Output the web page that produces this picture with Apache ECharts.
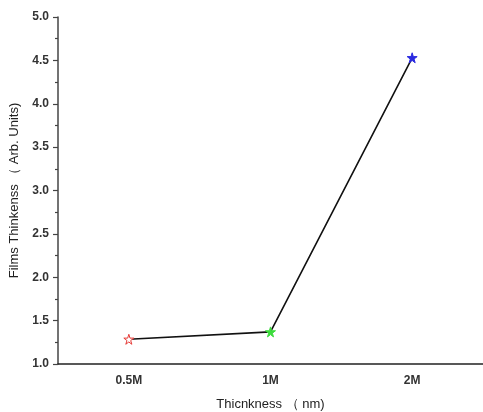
<!DOCTYPE html>
<html><head><meta charset="utf-8">
<script src="https://cdn.jsdelivr.net/npm/echarts@6/dist/echarts.min.js"></script>
<style>html,body{margin:0;padding:0;background:#fff}#c{width:483px;height:412px}</style>
</head><body><div id="c"></div>
<script>
var categories = ['0.5M', '1M', '2M'];
var thickness = [1.285, 1.37, 4.53];
var yTicks = [1.0, 1.5, 2.0, 2.5, 3.0, 3.5, 4.0, 4.5, 5.0];
var markerColors = ['#e53935', '#3ddc3d', '#2a2ae0'];
var markerFilled = [false, true, true];

var star = 'path://M50,0 L61,35 L98,35 L68,57 L79,91 L50,70 L21,91 L32,57 L2,35 L39,35 Z';
var chart = echarts.init(document.getElementById('c'));
var axisColor = '#444';
var font = 'Liberation Sans, Arial, sans-serif';
chart.setOption({
  animation: false,
  grid: {left: 58, top: 17, right: 0, bottom: 48, containLabel: false, outerBoundsMode: 'none'},
  xAxis: [{
    type: 'category', data: categories, boundaryGap: true, position: 'bottom',
    name: 'Thicnkness （ nm)', nameLocation: 'middle', nameGap: 34,
    nameTextStyle: {fontFamily: font, fontSize: 13, color: '#222'},
    axisLine: {lineStyle: {color: '#222', width: 1.5}},
    axisTick: {alignWithLabel: true, inside: false, length: 5, lineStyle: {color: axisColor, width: 1.2}},
    axisLabel: {fontFamily: font, fontSize: 12, fontWeight: 'bold', color: '#333', margin: 11},
    splitLine: {show: false}
  }, {
    type: 'category', data: categories, boundaryGap: true, position: 'bottom',
    axisLine: {show: false},
    axisTick: {alignWithLabel: false, length: 4, lineStyle: {color: axisColor, width: 1.2}},
    axisLabel: {show: false}, splitLine: {show: false}
  }],
  yAxis: {
    type: 'value', min: yTicks[0], max: yTicks[yTicks.length - 1], interval: 0.5,
    name: 'Films Thinkenss （ Arb. Units)', nameLocation: 'middle', nameGap: 30, nameRotate: 90,
    nameTextStyle: {fontFamily: font, fontSize: 13, color: '#222'},
    axisLine: {show: true, lineStyle: {color: axisColor, width: 1.5}},
    axisTick: {show: true, length: 5, lineStyle: {color: axisColor, width: 1.2}},
    minorTick: {show: true, splitNumber: 2, length: 3, lineStyle: {color: axisColor, width: 1.2}},
    axisLabel: {fontFamily: font, fontSize: 12, fontWeight: 'bold', color: '#333', margin: 9,
      formatter: function (v) { return v.toFixed(1); }},
    splitLine: {show: false}
  },
  series: [{
    type: 'line', xAxisIndex: 0,
    data: thickness.map(function (v, i) {
      return {value: v, itemStyle: {color: markerFilled[i] ? markerColors[i] : '#fff', borderColor: markerColors[i], borderWidth: 1}};
    }),
    symbol: star, symbolSize: 10, showAllSymbol: true,
    lineStyle: {color: '#111', width: 1.6},
    z: 3
  }]
});
</script></body></html>
